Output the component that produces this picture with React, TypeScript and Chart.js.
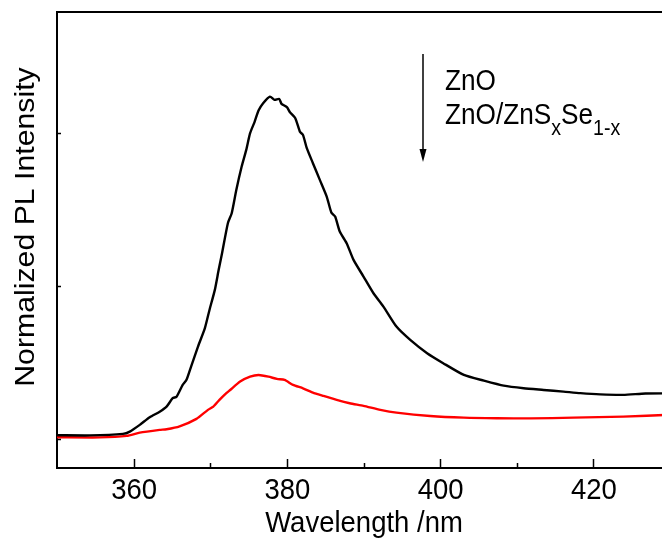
import React, { useEffect, useRef } from "react";
import { Chart, registerables } from "chart.js";

Chart.register(...registerables);

// ZnO (black) spectrum
const znoWavelength = [350, 354.3, 358.6, 359.5, 360.8, 362.1, 363.4, 364.3, 365.1, 365.6, 366.4, 366.9, 367.5, 368.4, 369.3, 369.9, 370.6, 371.1, 371.5, 372.3, 372.8, 373.4, 374.1, 374.7, 375.2, 375.8, 376.3, 376.9, 377.8, 378.4, 379.0, 379.3, 380.0, 380.4, 381.1, 381.7, 382.1, 382.6, 383.4, 384.3, 385.2, 385.8, 386.3, 386.9, 387.8, 388.7, 390.0, 391.3, 392.6, 394.3, 396.1, 398.3, 400.4, 403.1, 405.7, 408.3, 410.9, 413.5, 416.1, 418.3, 420.9, 423.9, 426.8, 430];
const znoIntensity = [0.024, 0.023, 0.033, 0.048, 0.092, 0.142, 0.178, 0.211, 0.266, 0.276, 0.353, 0.386, 0.473, 0.603, 0.724, 0.843, 0.974, 1.105, 1.203, 1.41, 1.475, 1.627, 1.78, 1.889, 1.998, 2.074, 2.146, 2.194, 2.237, 2.216, 2.222, 2.19, 2.168, 2.135, 2.096, 2.008, 1.987, 1.9, 1.802, 1.693, 1.584, 1.48, 1.453, 1.355, 1.279, 1.17, 1.061, 0.952, 0.865, 0.734, 0.647, 0.56, 0.495, 0.418, 0.381, 0.348, 0.331, 0.32, 0.309, 0.299, 0.291, 0.288, 0.297, 0.298];

// ZnO/ZnSxSe1-x (red) spectrum
const shellWavelength = [350, 355.6, 359.1, 360.8, 363.4, 364.3, 366.0, 368.2, 369.7, 370.4, 371.2, 372.1, 372.6, 373.9, 375.2, 376.3, 377.6, 378.7, 379.7, 380.8, 382.1, 383.4, 384.8, 386.5, 388.2, 390.0, 392.2, 394.3, 398.7, 403.1, 407.4, 411.8, 417.4, 423.9, 430];
const shellIntensity = [0.011, 0.01, 0.02, 0.041, 0.059, 0.063, 0.082, 0.131, 0.19, 0.211, 0.255, 0.299, 0.32, 0.375, 0.407, 0.418, 0.407, 0.392, 0.386, 0.353, 0.331, 0.303, 0.281, 0.255, 0.233, 0.216, 0.19, 0.172, 0.15, 0.139, 0.135, 0.134, 0.139, 0.146, 0.158];

const xMajorTicks = [360, 380, 400, 420];
const xMinorTicks = [370, 390, 410];
const yTicks = [0, 1, 2];
const xTitle = "Wavelength /nm";
const yTitle = "Normalized PL Intensity";
const legendLine1 = "ZnO";
const legendLine2 = ["ZnO/ZnS", "x", "Se", "1-x"];

const FONT = "'Liberation Sans', Arial, sans-serif";
const STRETCH = 1.1;

function drawText(ctx: CanvasRenderingContext2D, text: string, x: number, y: number, size: number, align: CanvasTextAlign) {
  ctx.save();
  ctx.translate(x, y);
  ctx.scale(1, STRETCH);
  ctx.font = `${size}px ${FONT}`;
  ctx.textAlign = align;
  ctx.textBaseline = "alphabetic";
  ctx.fillText(text, 0, 0);
  ctx.restore();
}

export default function App() {
  const ref = useRef<HTMLCanvasElement>(null);

  useEffect(() => {
    const canvas = ref.current;
    if (!canvas) return;

    const frame = {
      id: "frame",
      afterDraw(chart: any) {
        const { ctx, chartArea, scales } = chart;
        const xs = scales.x;
        const ys = scales.y;
        ctx.save();
        ctx.strokeStyle = "#000";
        ctx.fillStyle = "#000";
        // top border
        ctx.lineWidth = 2;
        ctx.beginPath();
        ctx.moveTo(chartArea.left - 1, chartArea.top);
        ctx.lineTo(chartArea.right, chartArea.top);
        ctx.stroke();
        // inward ticks
        ctx.lineWidth = 1.5;
        for (const v of xMajorTicks) {
          const px = Math.round(xs.getPixelForValue(v)) + 0.5;
          ctx.beginPath();
          ctx.moveTo(px, chartArea.bottom);
          ctx.lineTo(px, chartArea.bottom - 9);
          ctx.stroke();
        }
        for (const v of xMinorTicks) {
          const px = Math.round(xs.getPixelForValue(v)) + 0.5;
          ctx.beginPath();
          ctx.moveTo(px, chartArea.bottom);
          ctx.lineTo(px, chartArea.bottom - 5);
          ctx.stroke();
        }
        for (const v of yTicks) {
          const py = Math.round(ys.getPixelForValue(v)) + 0.5;
          ctx.beginPath();
          ctx.moveTo(chartArea.left, py);
          ctx.lineTo(chartArea.left + 4, py);
          ctx.stroke();
        }
        // x tick labels
        for (const v of xMajorTicks) {
          drawText(ctx, String(v), xs.getPixelForValue(v) + 0.5, 499, 27.5, "center");
        }
        // titles
        drawText(ctx, xTitle, 364, 531.5, 27.5, "center");
        ctx.save();
        ctx.translate(34, 227);
        ctx.rotate(-Math.PI / 2);
        ctx.scale(STRETCH, 1);
        ctx.font = `27.5px ${FONT}`;
        ctx.textAlign = "center";
        ctx.textBaseline = "alphabetic";
        ctx.fillText(yTitle, 0, 0);
        ctx.restore();
        // arrow
        ctx.lineWidth = 1.5;
        ctx.beginPath();
        ctx.moveTo(423, 54);
        ctx.lineTo(423, 152);
        ctx.stroke();
        ctx.beginPath();
        ctx.moveTo(419.5, 149);
        ctx.lineTo(426.5, 149);
        ctx.lineTo(423, 162);
        ctx.closePath();
        ctx.fill();
        // legend text
        const mainSize = 26.2;
        const subSize = 19.6;
        drawText(ctx, legendLine1, 445, 90, mainSize, "left");
        let x = 445;
        const base = 124;
        const sizes = [mainSize, subSize, mainSize, subSize];
        const offs = [0, 11, 0, 11];
        for (let i = 0; i < legendLine2.length; i++) {
          drawText(ctx, legendLine2[i], x, base + offs[i], sizes[i], "left");
          ctx.font = `${sizes[i]}px ${FONT}`;
          x += ctx.measureText(legendLine2[i]).width;
        }
        ctx.restore();
      },
    };

    const chart = new Chart(canvas, {
      type: "line",
      data: {
        datasets: [
          {
            label: "ZnO",
            data: znoWavelength.map((w, i) => ({ x: w, y: znoIntensity[i] })),
            borderColor: "#000000",
            borderWidth: 2.4,
            pointRadius: 0,
            tension: 0.2,
          },
          {
            label: "ZnO/ZnSxSe1-x",
            data: shellWavelength.map((w, i) => ({ x: w, y: shellIntensity[i] })),
            borderColor: "#ff0000",
            borderWidth: 2.4,
            pointRadius: 0,
            tension: 0.2,
          },
        ],
      },
      options: {
        animation: false,
        responsive: false,
        devicePixelRatio: 1,
        layout: { padding: { top: 12, right: 2, left: 0, bottom: 0 } },
        plugins: { legend: { display: false }, tooltip: { enabled: false } },
        scales: {
          x: {
            type: "linear",
            min: 350,
            max: 430,
            afterFit: (s: any) => {
              s.height = 70;
            },
            afterBuildTicks: (s: any) => {
              s.ticks = xMajorTicks.map((v) => ({ value: v }));
            },
            grid: { display: true, drawOnChartArea: false, drawTicks: false },
            border: { display: true, color: "#000", width: 2 },
            ticks: { display: false },
          },
          y: {
            type: "linear",
            min: -0.19,
            max: 2.79,
            afterFit: (s: any) => {
              s.width = 57;
            },
            afterBuildTicks: (s: any) => {
              s.ticks = yTicks.map((v) => ({ value: v }));
            },
            grid: { display: true, drawOnChartArea: false, drawTicks: false },
            border: { display: true, color: "#000", width: 2 },
            ticks: { display: false },
          },
        },
      },
      plugins: [frame],
    });
    return () => chart.destroy();
  }, []);

  return (
    <div style={{ position: "fixed", left: 0, top: 0, width: 662, height: 538, overflow: "hidden", background: "#fff" }}>
      <canvas ref={ref} width={672} height={538} style={{ display: "block", width: 672, height: 538 }} />
    </div>
  );
}
